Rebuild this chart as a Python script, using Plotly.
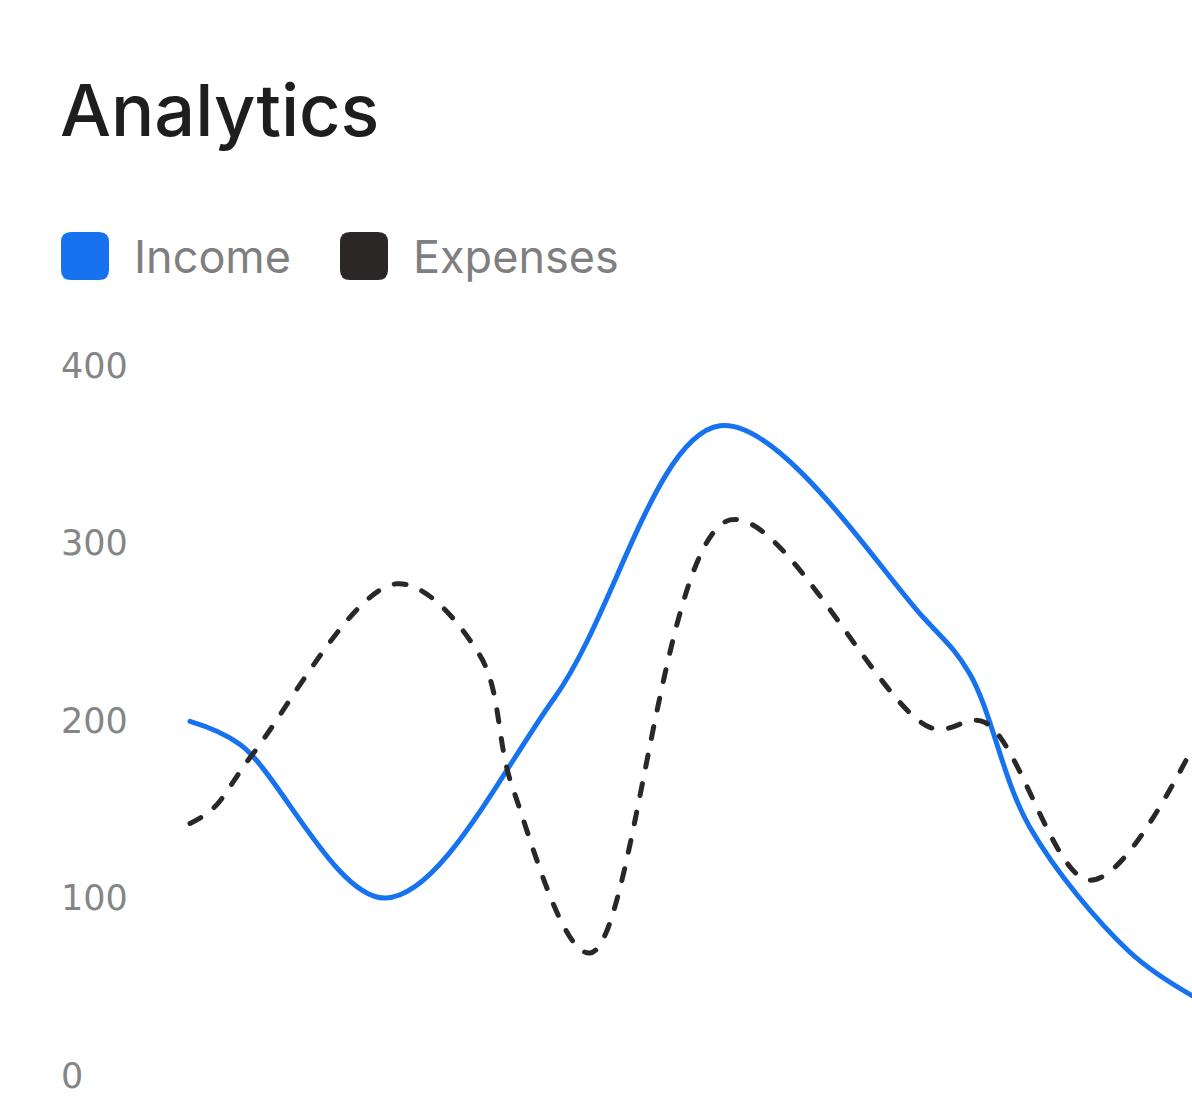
import plotly.graph_objects as go

# ---- data (x in arbitrary time units, y values) ----
income_x = [0, 5.0, 19.5, 36.4, 52.9, 73.35, 77.8, 83.8, 93.7, 100]
income_y = [199.5, 186.5, 100, 213, 366, 257, 226.5, 140, 70, 45]

expenses_x = [0, 2.3, 6.3, 20.6, 28.9, 32.2, 39.9, 53.9, 73.9, 79.3, 89.8, 100]
expenses_y = [142, 150.4, 181.4, 277, 237, 162, 69, 313, 196, 199, 110, 184]

y_ticks = [0, 100, 200, 300, 400]
y_tick_labels = ["0", "100", "200", "300", "400"]

series_names = ["Income", "Expenses"]
series_colors = ["#1672EF", "#2A2726"]

W, H = 1192, 1116
L, R, T, B = 58, 0, 330, 5

fig = go.Figure()
fig.add_trace(go.Scatter(
    x=income_x, y=income_y, name=series_names[0], mode="lines",
    line=dict(color=series_colors[0], width=5, shape="spline", smoothing=1),
    showlegend=False, hoverinfo="skip"))
fig.add_trace(go.Scatter(
    x=expenses_x, y=expenses_y, name=series_names[1], mode="lines",
    line=dict(color=series_colors[1], width=5, shape="spline", smoothing=1,
              dash="12px,17px"),
    showlegend=False, hoverinfo="skip"))

plot_w = W - L - R
plot_h = H - T - B


def px_to_paper_x(px):
    return (px - L) / plot_w


def py_to_paper_y(py):
    return (H - B - py) / plot_h


# title
fig.add_annotation(text="Analytics", xref="paper", yref="paper",
                   x=px_to_paper_x(58), y=py_to_paper_y(109),
                   xanchor="left", yanchor="middle", showarrow=False,
                   font=dict(family="Inter", size=72, weight=500, color="#1E1E1E"))

# legend (manual)
legend_items = [(85, 132), (364, 411)]
for (cx, tx), name, col in zip(legend_items, series_names, series_colors):
    r = 10
    s = 24
    path = (f"M {-s+r},{-s} L {s-r},{-s} Q {s},{-s} {s},{-s+r} L {s},{s-r} Q {s},{s} {s-r},{s} "
            f"L {-s+r},{s} Q {-s},{s} {-s},{s-r} L {-s},{-s+r} Q {-s},{-s} {-s+r},{-s} Z")
    fig.add_shape(type="path", xref="paper", yref="paper",
                  xsizemode="pixel", ysizemode="pixel",
                  xanchor=px_to_paper_x(cx), yanchor=py_to_paper_y(256),
                  path=path, fillcolor=col, line=dict(width=0), layer="above")
    fig.add_annotation(text=name, xref="paper", yref="paper",
                       x=px_to_paper_x(tx), y=py_to_paper_y(256),
                       xanchor="left", yanchor="middle", showarrow=False,
                       font=dict(family="Inter", size=45, color="#7F7F7F"))

fig.update_layout(
    width=W, height=H,
    margin=dict(l=L, r=R, t=T, b=B, pad=0),
    paper_bgcolor="white", plot_bgcolor="white",
    xaxis=dict(range=[-13.174, 100], visible=False, showgrid=False, zeroline=False),
    yaxis=dict(range=[-20, 420], tickvals=y_ticks, ticktext=y_tick_labels,
               ticklabelposition="inside", ticklabeloverflow="allow",
               showgrid=False, zeroline=False, showline=False, ticks="",
               tickfont=dict(family="DejaVu Sans", size=35, color="#858585")),
)

post = """
document.body.style.margin='0';
document.body.style.overflow='hidden';
var gd=document.getElementById('{plot_id}');
gd.querySelectorAll('.scatterlayer path.js-line').forEach(function(p){p.style.strokeLinecap='round';});
"""
fig.write_html("out.html", post_script=post, config={"displayModeBar": False})
